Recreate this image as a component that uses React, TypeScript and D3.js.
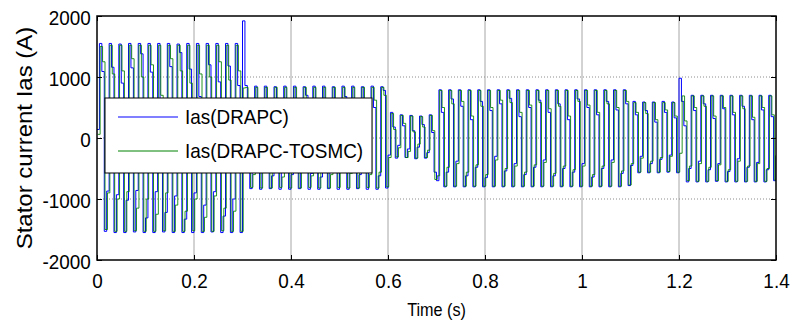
import React, {useEffect, useRef} from 'react';
import * as d3 from 'd3';

// sample step of the stepped current traces (s)
const sampleStep = 0.005;
const greenLag = 0.0015;

// Ias(DRAPC) samples, one row = one 20 ms period
const iasDrapc = [
    140, 1550, 1090, -1530, -870, 1550, 1160, -1550, -930, 1540, 900, -1550, -1020, 1550, 1150, -1540,
    -860, 1550, 1380, -1550, -1310, 1550, 1080, -1550, -880, 1550, 500, -1540, -1220, 1550, 1170, -1550,
    -950, 1540, 1400, -1550, -1330, 1550, 1130, -1550, -900, 1550, 680, -1550, -1100, 1550, 1200, -1540,
    -880, 1550, 920, -1550, -1280, 1550, 1180, -1550, -1000, 1550, 860, -1550,
    // 0.3 s
    1920, 860, 420, -830, -560, 850, 600, -840, -470, 850, 380, -830, -620, 840, 650, -840,
    -520, 850, 470, -840, -600, 850, 560, -830, -430, 840, 700, -840, -580, 850, 450, -840,
    -640, 850, 620, -830, -500, 840, 520, -840, -560, 850, 680, -840, -450, 850, 430, -830,
    -600, 840, 600, -840, -530, 850, 500, -840, -620, 840, 780, -820,
    // 0.6 s
    -280, 420, 180, -330, -120, 380, 200, -320, -180, 370, 120, -340, -150, 360, 220, -330,
    -240, 380, 90, -560,
    // 0.7 s
    -700, 790, 420, -800, -560, 790, 640, -800, -380, 790, 520, -800, -620, 790, 300, -800,
    -480, 790, 600, -800, -650, 790, 450, -800, -300, 790, 560, -800, -540, 790, 650, -800,
    -420, 790, 350, -800, -600, 790, 500, -800, -480, 790, 620, -800, -360, 790, 420, -800,
    -620, 790, 560, -800, -500, 790, 300, -800, -560, 790, 640, -800, -420, 790, 500, -800,
    -640, 790, 380, -800, -500, 790, 600, -800, -360, 790, 460, -800, -580, 790, 560, -780,
    // 1.1 s
    -450, 600, 380, -570, -300, 590, 450, -570, -420, 590, 260, -570, -350, 600, 420, -560,
    -280, 590, 330, -570,
    // 1.2 s
    980, 600, 200, -720, -500, 700, 450, -720, -380, 700, 560, -720, -520, 700, 320, -710,
    -420, 700, 480, -720, -550, 700, 380, -720, -340, 700, 520, -720, -480, 700, 300, -720,
    -400, 700, 460, -720, -520, 700, 350, -700,
    -300,
];

// Ias(DRAPC-TOSMC) samples
const iasTosmc = [
    60, 1500, 1250, -1500, -900, 1520, 1050, -1530, -1000, 1520, 1100, -1530, -880, 1520, 1300, -1520,
    -1150, 1520, 1000, -1530, -1000, 1520, 1200, -1530, -1250, 1520, 700, -1520, -900, 1520, 1300, -1530,
    -1100, 1520, 1100, -1530, -1200, 1520, 900, -1520, -1000, 1520, 1050, -1530, -1300, 1520, 1000, -1530,
    -950, 1520, 1250, -1520, -1150, 1520, 950, -1530, -1200, 1520, 1100, -1530,
    // 0.3 s
    820, 830, 500, -810, -600, 830, 480, -820, -500, 830, 620, -820, -560, 830, 420, -810,
    -640, 830, 560, -820, -480, 830, 640, -820, -560, 830, 480, -810, -620, 830, 560, -820,
    -500, 830, 460, -820, -600, 830, 640, -810, -480, 830, 500, -820, -580, 830, 600, -820,
    -520, 830, 420, -810, -600, 830, 620, -820, -560, 830, 700, -800,
    // 0.6 s
    -320, 400, 140, -310, -160, 370, 240, -320, -220, 360, 100, -330, -100, 350, 180, -320,
    -200, 370, 120, -680,
    // 0.7 s
    -620, 780, 500, -790, -480, 780, 560, -790, -420, 780, 600, -790, -560, 780, 360, -790,
    -440, 780, 520, -790, -600, 780, 500, -790, -360, 780, 620, -790, -500, 780, 580, -790,
    -460, 780, 420, -790, -560, 780, 540, -790, -440, 780, 580, -790, -400, 780, 480, -790,
    -580, 780, 520, -790, -460, 780, 360, -790, -520, 780, 600, -790, -460, 780, 540, -790,
    -600, 780, 420, -790, -460, 780, 560, -790, -400, 780, 500, -790, -540, 780, 600, -770,
    // 1.1 s
    -420, 580, 420, -560, -330, 580, 400, -560, -380, 580, 300, -560, -320, 580, 460, -550,
    -300, 580, 360, -560,
    // 1.2 s
    -250, 690, 280, -700, -460, 690, 500, -710, -420, 690, 520, -710, -480, 690, 360, -700,
    -440, 690, 500, -710, -520, 690, 420, -710, -380, 690, 480, -710, -460, 690, 340, -710,
    -420, 690, 500, -710, -500, 690, 380, -690,
    -280,
];

const xTicks = [0, 0.2, 0.4, 0.6, 0.8, 1, 1.2, 1.4];
const yTicks = [-2000, -1000, 0, 1000, 2000];
const legendLabels = ['Ias(DRAPC)', 'Ias(DRAPC-TOSMC)'];

const font = 'Liberation Sans, Arial, sans-serif';
const squeeze = 'scale(0.9,1)'; // the reference text is a bit narrow

const App = () => {
    const svgRef = useRef(null);

    useEffect(() => {
        const svg = d3.select(svgRef.current);
        svg.selectAll('*').remove();

        const width = 792;
        const height = 329;
        const margin = {top: 16, right: 16, bottom: 69, left: 97};
        const x0 = margin.left;
        const x1 = width - margin.right;
        const y0 = height - margin.bottom;
        const y1 = margin.top;

        const xScale = d3.scaleLinear().domain([0, 1.4]).range([x0, x1]);
        const yScale = d3.scaleLinear().domain([-2000, 2000]).range([y0, y1]);

        // grid
        const grid = svg.append('g');
        grid.selectAll('.vg')
            .data(xTicks.slice(1, -1))
            .join('line')
            .attr('x1', (d) => xScale(d))
            .attr('x2', (d) => xScale(d))
            .attr('y1', y1)
            .attr('y2', y0)
            .attr('stroke', '#a6a6a6')
            .attr('stroke-width', 1);
        grid.selectAll('.hg')
            .data(yTicks.slice(1, -1))
            .join('line')
            .attr('x1', x0)
            .attr('x2', x1)
            .attr('y1', (d) => yScale(d))
            .attr('y2', (d) => yScale(d))
            .attr('stroke', '#8c8c8c')
            .attr('stroke-width', 1)
            .attr('stroke-dasharray', '1,2');

        // traces
        svg.append('clipPath')
            .attr('id', 'plotclip')
            .append('rect')
            .attr('x', x0)
            .attr('y', y1)
            .attr('width', x1 - x0)
            .attr('height', y0 - y1);

        const line = (lag) =>
            d3
                .line()
                .x((d, i) => xScale(Math.min(1.4, i * sampleStep + lag)))
                .y((d) => yScale(d))
                .curve(d3.curveStepAfter);

        const traces = svg.append('g').attr('clip-path', 'url(#plotclip)');
        traces
            .append('path')
            .datum(iasDrapc)
            .attr('d', line(0))
            .attr('fill', 'none')
            .attr('stroke', '#0000ff')
            .attr('stroke-width', 1);
        traces
            .append('path')
            .datum(iasTosmc)
            .attr('d', line(greenLag))
            .attr('fill', 'none')
            .attr('stroke', '#008000')
            .attr('stroke-width', 1)
            .attr('stroke-opacity', 0.85);

        // axes, MATLAB style inward ticks
        const tickLen = 5;
        const fmt = (d) => String(d);
        const xb = svg.append('g').attr('transform', `translate(0,${y0})`);
        xb.call(d3.axisBottom(xScale).tickValues(xTicks).tickSize(-tickLen).tickPadding(13).tickFormat(fmt));
        const xt = svg.append('g').attr('transform', `translate(0,${y1})`);
        xt.call(d3.axisTop(xScale).tickValues(xTicks).tickSize(-tickLen).tickFormat(() => ''));
        const yl = svg.append('g').attr('transform', `translate(${x0},0)`);
        yl.call(d3.axisLeft(yScale).tickValues(yTicks).tickSize(-tickLen).tickPadding(7).tickFormat(fmt));
        const yr = svg.append('g').attr('transform', `translate(${x1},0)`);
        yr.call(d3.axisRight(yScale).tickValues(yTicks).tickSize(-tickLen).tickFormat(() => ''));

        [xb, xt, yl, yr].forEach((g) => {
            g.select('.domain').remove();
            g.selectAll('.tick line').attr('stroke', '#000');
            g.selectAll('text')
                .attr('font-family', font)
                .attr('font-size', 21)
                .attr('fill', '#000')
                .attr('transform', squeeze);
        });
        xb.selectAll('text').attr('dy', '0.71em');
        yl.selectAll('text').attr('dy', '0.42em');

        svg.append('rect')
            .attr('x', x0)
            .attr('y', y1)
            .attr('width', x1 - x0)
            .attr('height', y0 - y1)
            .attr('fill', 'none')
            .attr('stroke', '#000')
            .attr('stroke-width', 1.5);

        // axis titles
        svg.append('g')
            .attr('transform', `translate(${(x0 + x1) / 2},316)`)
            .append('text')
            .attr('transform', squeeze)
            .attr('text-anchor', 'middle')
            .attr('font-family', font)
            .attr('font-size', 18)
            .text('Time (s)');
        svg.append('g')
            .attr('transform', `translate(32,${(y0 + y1) / 2}) rotate(-90)`)
            .append('text')
            .attr('transform', 'scale(1,0.9)')
            .attr('text-anchor', 'middle')
            .attr('font-family', font)
            .attr('font-size', 24)
            .text('Stator current Ias (A)');

        // legend
        const leg = svg.append('g');
        leg.append('rect')
            .attr('x', 105)
            .attr('y', 98)
            .attr('width', 267)
            .attr('height', 75)
            .attr('fill', '#fff')
            .attr('stroke', '#000')
            .attr('stroke-width', 1);
        const colors = ['#0000ff', '#008000'];
        legendLabels.forEach((label, i) => {
            const ly = 117 + i * 34;
            leg.append('line')
                .attr('x1', 118)
                .attr('x2', 178)
                .attr('y1', ly)
                .attr('y2', ly)
                .attr('stroke', colors[i])
                .attr('stroke-width', 1);
            leg.append('g')
                .attr('transform', `translate(185,${ly + 7})`)
                .append('text')
                .attr('transform', squeeze)
                .attr('font-family', font)
                .attr('font-size', 21)
                .text(label);
        });
    }, []);

    return (
        <svg
            ref={svgRef}
            width={792}
            height={329}
            style={{position: 'absolute', left: 0, top: 0, background: '#fff'}}
        />
    );
};

export default App;
